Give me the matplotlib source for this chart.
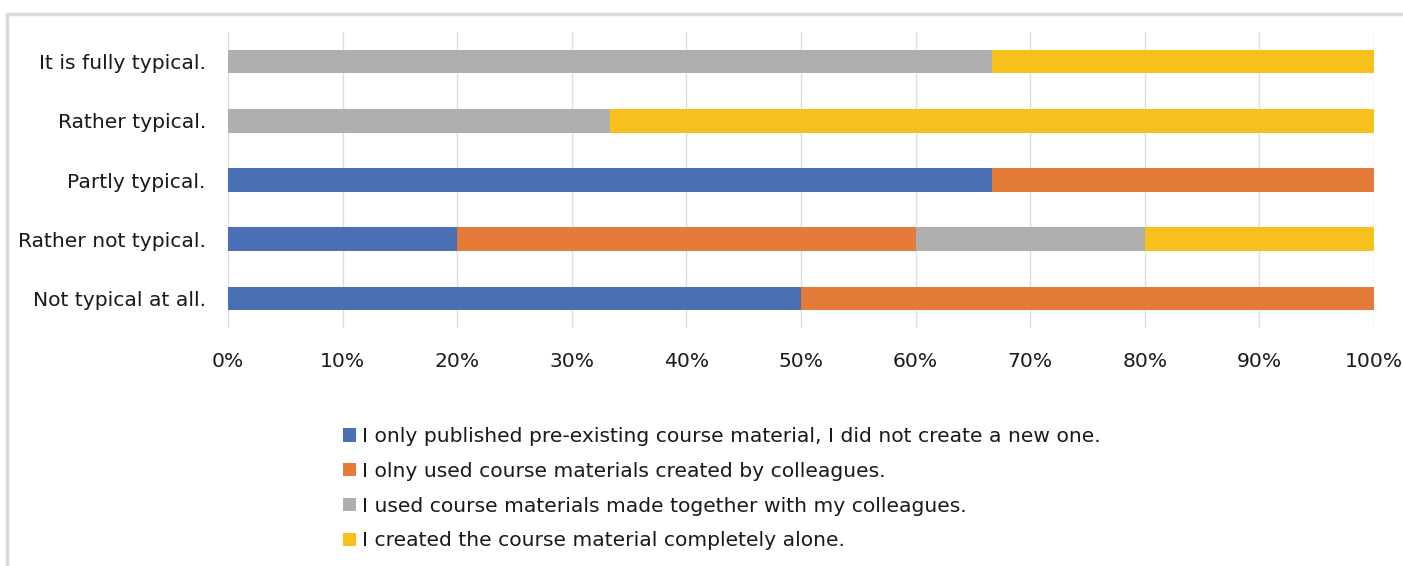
import numpy as np
import matplotlib
matplotlib.use("Agg")
import matplotlib.pyplot as plt
from matplotlib.patches import Rectangle

# data, bottom row first
categories = ["Not typical at all.", "Rather not typical.", "Partly typical.",
              "Rather typical.", "It is fully typical."]
series = [
    "I only published pre-existing course material, I did not create a new one.",
    "I olny used course materials created by colleagues.",
    "I used course materials made together with my colleagues.",
    "I created the course material completely alone.",
]
published = [50.0, 20.0, 66.7, 0.0, 0.0]
by_colleagues = [50.0, 40.0, 33.3, 0.0, 0.0]
together = [0.0, 20.0, 0.0, 33.3, 66.7]
alone = [0.0, 20.0, 0.0, 66.7, 33.3]
ticks = [0, 10, 20, 30, 40, 50, 60, 70, 80, 90, 100]
tick_labels = [f"{t}%" for t in ticks]

colors = ["#4a6fb5", "#e57b38", "#b0afaf", "#f8c01c"]

W, H = 1403, 566
fig = plt.figure(figsize=(W / 100, H / 100), dpi=100)
ax = fig.add_axes([228 / W, 1 - 328 / H, (1374 - 228) / W, (328 - 32) / H])

# outer chart frame (cut off on right/bottom)
fig.patches.append(Rectangle((7 / W, -0.1), 1.2, 1 - 14 / H + 0.1,
                             transform=fig.transFigure, fill=False,
                             edgecolor="#d9d9d9", linewidth=2.5))

y = np.arange(len(categories))
left = np.zeros(len(categories))
for vals, name, c in zip([published, by_colleagues, together, alone], series, colors):
    vals = np.array(vals)
    ax.barh(y, vals, left=left, height=0.4, color=c, label=name, zorder=3)
    left += vals

fs = 14.6
ax.set_xlim(0, 100)
ax.set_ylim(-0.5, 4.5)
ax.set_yticks(y)
ax.set_yticklabels(categories, fontsize=fs, color="#1a1a1a")
ax.set_xticks(ticks)
ax.set_xticklabels(tick_labels, fontsize=fs, color="#1a1a1a")
ax.tick_params(axis="both", length=0)
ax.tick_params(axis="x", pad=17)
ax.tick_params(axis="y", pad=16)
ax.grid(axis="x", color="#dedede", linewidth=1.0, zorder=0)
for s in ax.spines.values():
    s.set_visible(False)

handles, labels = ax.get_legend_handles_labels()
leg = fig.legend(handles, labels, loc="upper left", bbox_to_anchor=(343 / W, 1 - 427 / H),
                 frameon=False, fontsize=fs, handlelength=0.65, handleheight=0.65,
                 handletextpad=0.3, labelspacing=0.78, borderaxespad=0, borderpad=0)
for t in leg.get_texts():
    t.set_color("#1a1a1a")

fig.savefig("out.png", dpi=100)
